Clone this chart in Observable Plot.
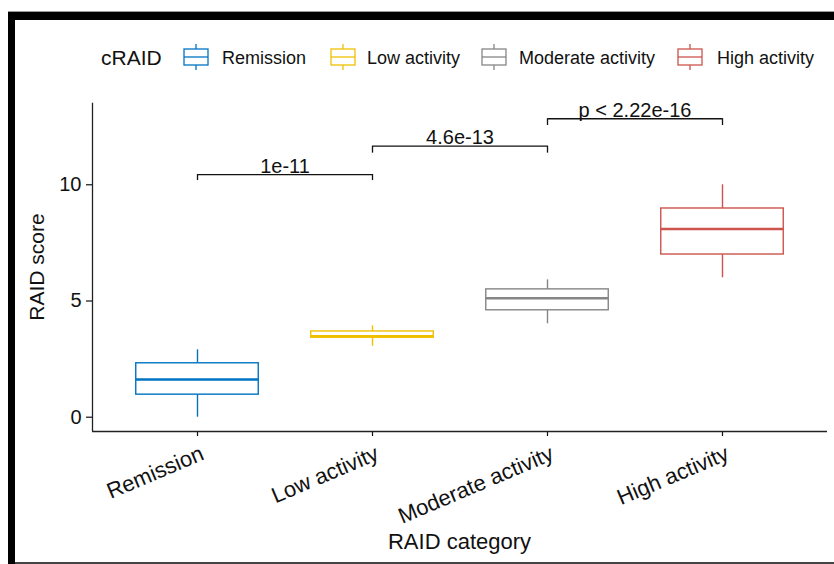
<!DOCTYPE html>
<html>
<head>
<meta charset="utf-8">
<script src="https://cdn.jsdelivr.net/npm/d3@7"></script>
<script src="https://cdn.jsdelivr.net/npm/@observablehq/plot@0.6"></script>
<style>
  body { margin: 0; background: #fff; }
  #wrap { position: relative; width: 834px; height: 564px; overflow: hidden;
          font-family: "Liberation Sans", Arial, sans-serif; color: #111; background: #fff; }
  #chart { position: absolute; left: 0; top: 0; }
  .bar { position: absolute; background: #000; }
  .lg { position: absolute; white-space: nowrap; line-height: 1; }
  .key { position: absolute; }
  #xtitle { position: absolute; left: 92px; width: 735px; top: 531px; text-align: center; font-size: 22px; line-height: 1; }
  #ytitle { position: absolute; left: 37px; top: 267px; font-size: 21px; transform: translate(-50%, -50%) rotate(-90deg); white-space: nowrap; }
</style>
</head>
<body>
<div id="wrap">
  <div id="chart"></div>
  <div class="bar" style="left:8px;top:11px;width:826px;height:1px;background:#999;"></div>
  <div class="bar" style="left:8px;top:12px;width:826px;height:8px;"></div>
  <div class="bar" style="left:8px;top:12px;width:7px;height:552px;"></div>
  <div class="bar" style="left:15px;top:562px;width:819px;height:2px;background:#444;"></div>
  <div id="legend"></div>
  <div id="xtitle">RAID category</div>
  <div id="ytitle">RAID score</div>
</div>
<script>
// ---- data ----
const categories = ["Remission", "Low activity", "Moderate activity", "High activity"];
const mins    = [0.0, 3.05, 4.02, 6.0];
const q1s     = [0.97, 3.42, 4.60, 7.0];
const medians = [1.62, 3.48, 5.12, 8.10];
const q3s     = [2.32, 3.69, 5.50, 8.98];
const maxs    = [2.90, 3.93, 5.91, 10.0];
const colors  = ["#0073C2", "#EFC000", "#868686", "#CD534C"];

const group1 = ["Remission", "Low activity", "Moderate activity"];
const group2 = ["Low activity", "Moderate activity", "High activity"];
const bracketY = [10.44, 11.66, 12.84];
const tipY     = [10.18, 11.36, 12.55];
const pLabels  = ["1e-11", "4.6e-13", "p < 2.22e-16"];

const yTicks = [0, 5, 10];
const legendTitle = "cRAID";

// ---- derived tables ----
const boxes = categories.map((c, i) => ({
  cat: c, idx: i + 1, min: mins[i], q1: q1s[i], med: medians[i], q3: q3s[i], max: maxs[i], color: colors[i]
}));
const half = 0.35; // half box width in category units
const comps = group1.map((g, i) => {
  const a = categories.indexOf(g) + 1, b = categories.indexOf(group2[i]) + 1;
  return {a, b, mid: (a + b) / 2, y: bracketY[i], tip: tipY[i], label: pLabels[i]};
});

const xDomain = [0.4, 4.6];
const yDomain = [-0.615, 13.51];
const tickIdx = boxes.map(d => d.idx);

const chart = Plot.plot({
  width: 834, height: 564,
  marginLeft: 92, marginRight: 7, marginTop: 102.7, marginBottom: 133,
  style: {fontFamily: '"Liberation Sans", Arial, sans-serif', color: "#111", background: "transparent"},
  x: {domain: xDomain, axis: null},
  y: {domain: yDomain, axis: null},
  marks: [
    Plot.axisY({ticks: yTicks, tickSize: 6, tickPadding: 5, fontSize: 20, label: null, strokeWidth: 1.2}),
    // x tick marks
    Plot.axisX({ticks: tickIdx, tickFormat: () => "", tickSize: 5, label: null, strokeWidth: 1.2}),
    // x tick labels
    Plot.axisX({ticks: tickIdx, tickFormat: i => categories[i - 1], tickRotate: -23, tickSize: 0,
                tickPadding: 21, dx: 5, fontSize: 22, label: null}),
    Plot.ruleX([xDomain[0]], {stroke: "#222", strokeWidth: 1.3}),
    Plot.ruleY([yDomain[0]], {stroke: "#222", strokeWidth: 1.3}),
    // whiskers
    Plot.ruleX(boxes, {x: "idx", y1: "min", y2: "q1", stroke: "color", strokeWidth: 1.4}),
    Plot.ruleX(boxes, {x: "idx", y1: "q3", y2: "max", stroke: "color", strokeWidth: 1.4}),
    // boxes
    Plot.rectY(boxes, {x1: d => d.idx - half, x2: d => d.idx + half, y1: "q1", y2: "q3",
                       fill: "white", stroke: "color", strokeWidth: 1.4}),
    // medians
    Plot.ruleY(boxes, {x1: d => d.idx - half, x2: d => d.idx + half, y: "med", stroke: "color", strokeWidth: 2.4}),
    // brackets
    Plot.link(comps, {x1: "a", x2: "b", y1: "y", y2: "y", stroke: "#111", strokeWidth: 1.3}),
    Plot.ruleX(comps, {x: "a", y1: "tip", y2: "y", stroke: "#111", strokeWidth: 1.3}),
    Plot.ruleX(comps, {x: "b", y1: "tip", y2: "y", stroke: "#111", strokeWidth: 1.3}),
    Plot.text(comps, {x: "mid", y: "y", text: "label", lineAnchor: "bottom", dy: -2, fontSize: 20, fill: "#111"})
  ]
});
document.getElementById("chart").appendChild(chart);

// ---- legend ----
const legend = document.getElementById("legend");
const keyX  = [183, 330, 481, 677];
const textX = [222, 367, 519, 717];
const t = document.createElement("div");
t.className = "lg"; t.textContent = legendTitle;
t.style.cssText = "left:101px;top:47px;font-size:21px;";
legend.appendChild(t);
categories.forEach((c, i) => {
  const ns = "http://www.w3.org/2000/svg";
  const s = document.createElementNS(ns, "svg");
  s.setAttribute("width", 26); s.setAttribute("height", 26);
  s.setAttribute("class", "key");
  s.style.left = keyX[i] + "px"; s.style.top = "44px";
  s.innerHTML = `<line x1="13" x2="13" y1="0" y2="5" stroke="${colors[i]}" stroke-width="1.3"/>
    <line x1="13" x2="13" y1="21" y2="26" stroke="${colors[i]}" stroke-width="1.3"/>
    <rect x="1" y="5" width="24" height="16" fill="white" stroke="${colors[i]}" stroke-width="1.3"/>
    <line x1="1" x2="25" y1="13" y2="13" stroke="${colors[i]}" stroke-width="1.3"/>`;
  legend.appendChild(s);
  const d = document.createElement("div");
  d.className = "lg"; d.textContent = c;
  d.style.cssText = `left:${textX[i]}px;top:49px;font-size:18px;`;
  legend.appendChild(d);
});
</script>
</body>
</html>
